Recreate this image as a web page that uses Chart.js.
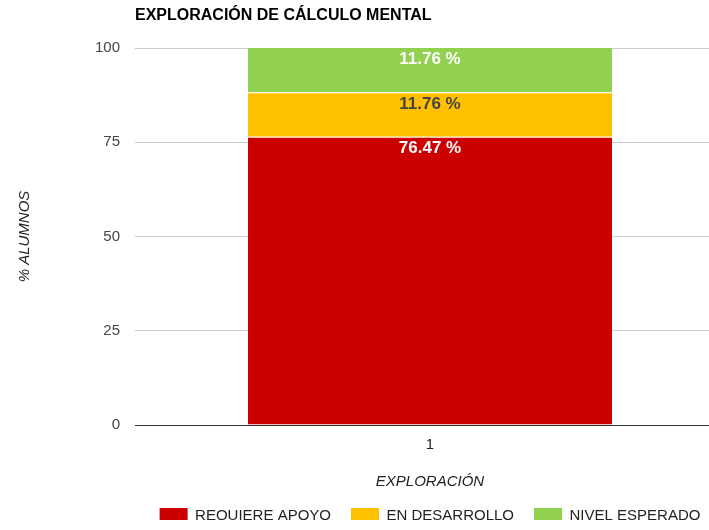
<!DOCTYPE html>
<html>
<head>
<meta charset="utf-8">
<script src="https://cdn.jsdelivr.net/npm/chart.js@4/dist/chart.umd.min.js"></script>
<style>
  html, body { margin: 0; padding: 0; background: #fff; }
  #wrap { width: 709px; height: 520px; overflow: hidden; position: relative; }
  canvas { display: block; }
</style>
</head>
<body>
<div id="wrap">
  <canvas id="chart" width="725" height="533"></canvas>
</div>
<script>
// chart data
const categories = ['1'];
const seriesNames = ['REQUIERE APOYO', 'EN DESARROLLO', 'NIVEL ESPERADO'];
const requiereApoyo = [76.47];
const enDesarrollo = [11.76];
const nivelEsperado = [11.76];
const yTicks = [0, 25, 50, 75, 100];

const FONT = '"Liberation Sans", Arial, sans-serif';
const colors = ['#cc0000', '#ffc000', '#92d050'];
const labelColors = ['#ffffff', '#444444', '#ffffff'];

// draws "xx.xx %" at the top of every segment
const segmentLabels = {
    id: 'segmentLabels',
    afterDatasetsDraw(chart) {
        const ctx = chart.ctx;
        ctx.save();
        ctx.font = 'bold 17px ' + FONT;
        ctx.textAlign = 'center';
        ctx.textBaseline = 'middle';
        chart.data.datasets.forEach((ds, i) => {
            const meta = chart.getDatasetMeta(i);
            meta.data.forEach((bar, j) => {
                const top = Math.min(bar.y, bar.base);
                ctx.fillStyle = labelColors[i];
                ctx.fillText(ds.data[j].toFixed(2) + ' %', bar.x, top + 11.5);
            });
        });
        ctx.restore();
    }
};

const seriesData = [requiereApoyo, enDesarrollo, nivelEsperado];

new Chart(document.getElementById('chart'), {
    type: 'bar',
    data: {
        labels: categories,
        datasets: seriesNames.map((name, i) => ({
            label: name,
            data: seriesData[i],
            backgroundColor: colors[i],
            borderColor: '#ffffff',
            borderWidth: i < 2 ? { top: 1, left: 0, right: 0, bottom: 0 } : 0,
            borderSkipped: 'start',
            categoryPercentage: 1,
            barPercentage: 0.617
        }))
    },
    options: {
        responsive: false,
        animation: false,
        layout: { padding: 0 },
        plugins: {
            tooltip: { enabled: false },
            title: {
                display: true,
                text: 'EXPLORACIÓN DE CÁLCULO MENTAL',
                align: 'start',
                fullSize: false,
                color: '#000',
                font: { family: FONT, size: 16, weight: 'bold' },
                padding: { top: 6, bottom: 22.8 }
            },
            legend: {
                position: 'bottom',
                fullSize: false,
                labels: {
                    boxWidth: 28,
                    boxHeight: 15,
                    padding: 20,
                    color: '#222',
                    font: { family: FONT, size: 15 },
                    generateLabels: chart => chart.data.datasets.map((ds, i) => ({
                        text: ds.label,
                        fillStyle: ds.backgroundColor,
                        strokeStyle: ds.backgroundColor,
                        lineWidth: 0,
                        fontColor: '#222',
                        hidden: false,
                        datasetIndex: i
                    }))
                }
            }
        },
        scales: {
            x: {
                stacked: true,
                grid: { display: false, drawTicks: false },
                border: { display: false },
                ticks: { color: '#222', padding: 11, font: { family: FONT, size: 15 } },
                title: {
                    display: true,
                    text: 'EXPLORACIÓN',
                    color: '#222',
                    font: { family: FONT, size: 15, style: 'italic' },
                    padding: { top: 0, bottom: -3 }
                },
                afterFit(scale) { scale.height = 63; }
            },
            y: {
                stacked: true,
                min: 0,
                max: 100,
                afterBuildTicks(scale) { scale.ticks = yTicks.map(v => ({ value: v })); },
                grid: {
                    drawTicks: false,
                    color: c => c.tick && c.tick.value === 0 ? '#333333' : '#cccccc',
                    lineWidth: 1
                },
                border: { display: false },
                ticks: { color: '#444', padding: 15, font: { family: FONT, size: 15 } },
                title: {
                    display: true,
                    text: '% ALUMNOS',
                    color: '#222',
                    font: { family: FONT, size: 15, style: 'italic' },
                    padding: { top: 16, bottom: 0 }
                },
                afterFit(scale) { scale.width = 135; }
            }
        }
    },
    plugins: [segmentLabels]
});
</script>
</body>
</html>
